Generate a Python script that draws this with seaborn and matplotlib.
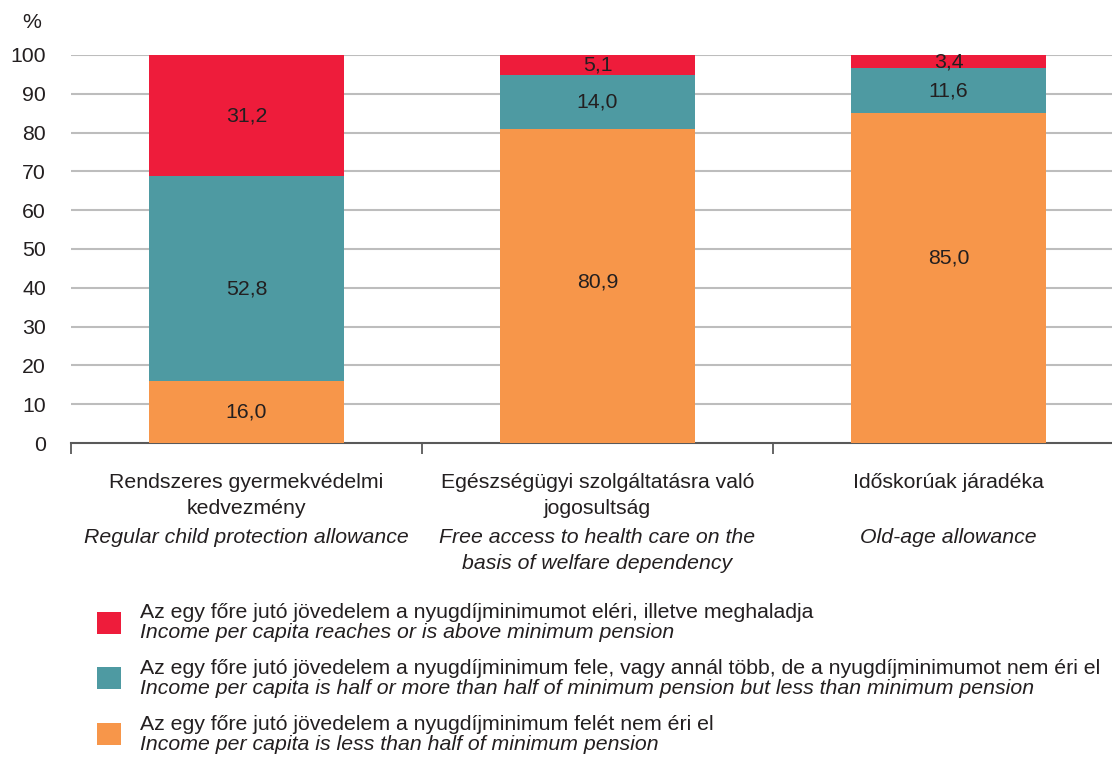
import matplotlib
matplotlib.use("Agg")
import matplotlib.pyplot as plt
from matplotlib.patches import Rectangle
import seaborn as sns
import pandas as pd
import numpy as np

# data
categories_hu = ["Rendszeres gyermekvédelmi\nkedvezmény",
                 "Egészségügyi szolgáltatásra való\njogosultság",
                 "Időskorúak járadéka"]
categories_en = ["Regular child protection allowance",
                 "Free access to health care on the\nbasis of welfare dependency",
                 "Old-age allowance"]
below_half = [16.0, 80.9, 85.0]
half_to_min = [52.8, 14.0, 11.6]
above_min = [31.2, 5.1, 3.4]

series_hu = ["Az egy főre jutó jövedelem a nyugdíjminimumot eléri, illetve meghaladja",
             "Az egy főre jutó jövedelem a nyugdíjminimum fele, vagy annál több, de a nyugdíjminimumot nem éri el",
             "Az egy főre jutó jövedelem a nyugdíjminimum felét nem éri el"]
series_en = ["Income per capita reaches or is above minimum pension",
             "Income per capita is half or more than half of minimum pension but less than minimum pension",
             "Income per capita is less than half of minimum pension"]

RED = "#EE1C3B"
TEAL = "#4E9AA2"
ORANGE = "#F7964A"
TXT = "#231F20"
FS = 15.3

sns.set_theme(style="white")
plt.rcParams["font.family"] = ["Liberation Sans", "DejaVu Sans"]

df = pd.DataFrame({
    "cat": ["c0", "c1", "c2"],
    "orange": below_half,
    "teal": half_to_min,
    "red": above_min,
})
df["top_teal"] = df["orange"] + df["teal"]
df["top_red"] = df["top_teal"] + df["red"]

fig = plt.figure(figsize=(11.12, 7.62), dpi=100)
ax = fig.add_axes([71 / 1112, 1 - 443 / 762, 1041 / 1112, 388 / 762])

w = 0.556
sns.barplot(data=df, x="cat", y="top_red", color=RED, width=w, saturation=1, ax=ax, zorder=2)
sns.barplot(data=df, x="cat", y="top_teal", color=TEAL, width=w, saturation=1, ax=ax, zorder=3)
sns.barplot(data=df, x="cat", y="orange", color=ORANGE, width=w, saturation=1, ax=ax, zorder=4)
for p in ax.patches:
    p.set_linewidth(0)

# value labels (big segments nudged a bit like in the original)
fmt = lambda v: f"{v:.1f}".replace(".", ",")
nudge = {(0, 1): -2.8, (1, 0): 1.0, (2, 0): 5.2}
for i in range(3):
    segs = [(0, below_half[i]), (below_half[i], half_to_min[i]),
            (below_half[i] + half_to_min[i], above_min[i])]
    for j, (b, h) in enumerate(segs):
        ax.text(i, b + h / 2 + nudge.get((i, j), 0), fmt(h), ha="center", va="center",
                fontsize=FS, color=TXT, zorder=6)

ax.set_yticks(np.arange(0, 101, 10))
ax.set_yticklabels([str(v) for v in range(0, 101, 10)], fontsize=FS, color=TXT)
ax.tick_params(axis="y", left=False, length=0, pad=18)
ax.set_xticks([-0.5, 0.5, 1.5, 2.5])
ax.set_xticklabels([])
ax.tick_params(axis="x", bottom=True, length=8, width=1.3, color="#595959", direction="out")
ax.set_ylim(0, 100)
ax.set_xlim(-0.5, -0.5 + 1041 / 351)
for y in range(10, 101, 10):
    ax.axhline(y, color="#BDBDBD", lw=1.5, zorder=1)
for s in ["top", "right", "left"]:
    ax.spines[s].set_visible(False)
ax.spines["bottom"].set_color("#595959")
ax.spines["bottom"].set_linewidth(1.5)
ax.set_xlabel("")
ax.set_ylabel("")

fig.text(32 / 1112, 1 - 22 / 762, "%", fontsize=FS, color=TXT, ha="center", va="center")

# category labels
for i in range(3):
    ax.text(i, -7.8, categories_hu[i], ha="center", va="top", fontsize=FS,
            color=TXT, linespacing=1.42, transform=ax.transData)
    ax.text(i, -22.0, categories_en[i], ha="center", va="top", fontsize=FS,
            style="italic", color=TXT, linespacing=1.42, transform=ax.transData)

# legend
colors = [RED, TEAL, ORANGE]
ys = [623, 678, 734]
for c, y, hu, en in zip(colors, ys, series_hu, series_en):
    fig.add_artist(Rectangle((97 / 1112, 1 - (y + 11) / 762), 24 / 1112, 22 / 762,
                             facecolor=c, edgecolor="none", transform=fig.transFigure))
    fig.text(140 / 1112, 1 - (y - 10) / 762, hu, fontsize=FS, color=TXT, va="center")
    fig.text(140 / 1112, 1 - (y + 10) / 762, en, fontsize=FS, color=TXT, va="center",
             style="italic")

fig.savefig("out.png", dpi=100)
